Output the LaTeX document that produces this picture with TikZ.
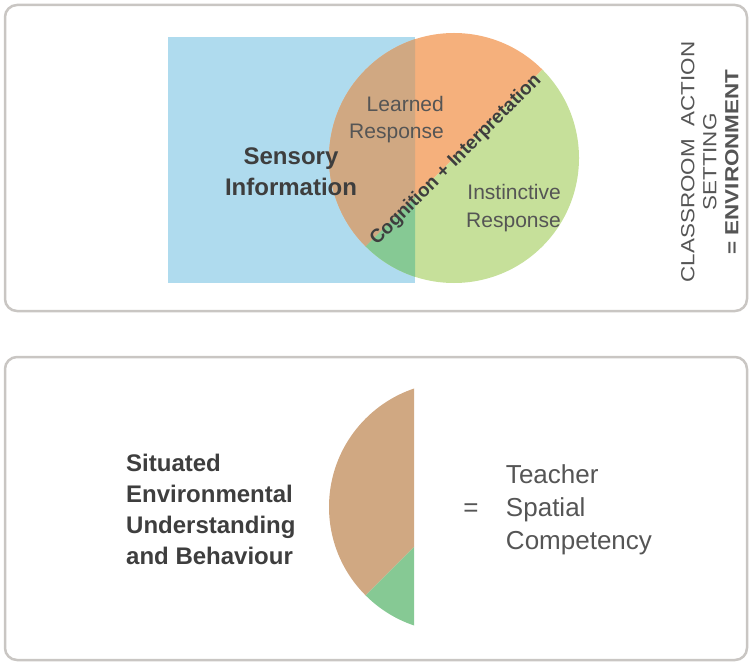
\documentclass[tikz,border=0pt]{standalone}
\usepackage{fontspec}
\setmainfont{Liberation Sans}
\usepackage{graphicx}
\usepackage{tikz}
\usetikzlibrary{positioning}
\definecolor{PanelGray}{HTML}{C9C6C3}
\definecolor{SkyBlue}{HTML}{AFDBEE}
\definecolor{Peach}{HTML}{F5B07C}
\definecolor{Leaf}{HTML}{C6E09A}
\definecolor{TanMix}{HTML}{D0A882}
\definecolor{MintMix}{HTML}{86C994}
\definecolor{InkDark}{HTML}{3E3E3E}
\definecolor{InkSoft}{HTML}{555555}

\begin{document}
\begin{tikzpicture}[x=1pt, y=1pt]
\newdimen\ra
\newdimen\th
\newdimen\rc
\ra=12pt
\th=2.5pt
\rc=125pt

\useasboundingbox (0,0) rectangle (749,-663);

\draw[rounded corners=\ra, line width=\th, PanelGray] (5,-5) rectangle (747,-311); % top panel
\draw[rounded corners=\ra, line width=\th, PanelGray] (5,-357) rectangle (747,-660); % bottom panel

% sensory field and response circle
\fill[SkyBlue] (168,-37) rectangle (415,-283);
\fill[Peach] (454,-158) ++(45:\rc) arc (45:225:\rc) -- cycle;
\fill[Leaf] (454,-158) ++(225:\rc) arc (225:405:\rc) -- cycle;
\begin{scope}
\clip (168,-37) rectangle (415,-283);
\fill[TanMix] (454,-158) ++(45:\rc) arc (45:225:\rc) -- cycle;
\fill[MintMix] (454,-158) ++(225:\rc) arc (225:405:\rc) -- cycle;
\end{scope}

% lower panel: the overlap on its own
\begin{scope}
\clip (300,-370) rectangle (414,-650);
\fill[TanMix] (454,-507) ++(45:\rc) arc (45:225:\rc) -- cycle;
\fill[MintMix] (454,-507) ++(225:\rc) arc (225:405:\rc) -- cycle;
\end{scope}

\node[InkDark, align=center, inner sep=0pt, font=\fontsize{24}{31}\selectfont\bfseries] (Sensory) at (291,-172) {Sensory\\Information};
\node[InkSoft, anchor=east, align=right, inner sep=0pt, font=\fontsize{21}{27}\selectfont] (Learned) at (444,-120) {Learned\\Response};
\node[InkSoft, anchor=east, align=right, inner sep=0pt, font=\fontsize{21}{28}\selectfont] (Instinct) at (561,-208) {Instinctive\\Response};
\node[InkDark, rotate=45, inner sep=0pt, font=\fontsize{19}{23}\selectfont\bfseries] (Cogn) at (456,-160) {Cognition + Interpretation};
\node[InkSoft, rotate=90, inner sep=0pt, font=\fontsize{19}{22}\selectfont] (Setting) at (712,-162) {\scalebox{1.18}[1]{\begin{tabular}{@{}c@{}}CLASSROOM\ \ ACTION\\SETTING\\\textbf{= ENVIRONMENT}\end{tabular}}};

\node[InkDark, anchor=west, align=left, inner sep=0pt, font=\fontsize{24}{31}\selectfont\bfseries] (Situated) at (126,-509) {Situated\\Environmental\\Understanding\\and Behaviour};
\node[InkSoft, inner sep=0pt, font=\fontsize{26}{26}\selectfont] (Equals) at (471,-510) {=};
\node[InkSoft, right=27pt of Equals, align=left, inner sep=0pt, font=\fontsize{26}{33}\selectfont] (Teacher) {Teacher\\Spatial\\Competency};
\end{tikzpicture}
\end{document}
